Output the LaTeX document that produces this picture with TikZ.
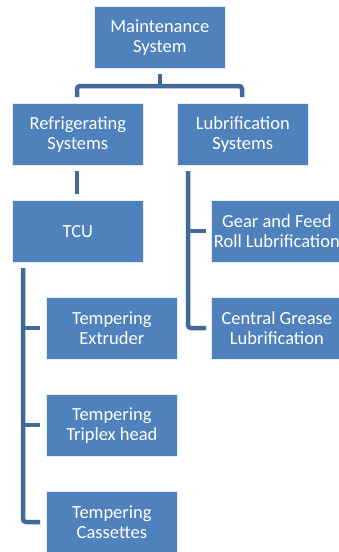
\documentclass[tikz,border=0pt]{standalone}
\usepackage{fontspec}
\setmainfont{Carlito}
\definecolor{boxblue}{HTML}{4F81BD}
\definecolor{linkblue}{HTML}{41699C}
\begin{document}
\begin{tikzpicture}[x=1pt,y=-1pt,
  unit/.style={fill=boxblue, draw=white!85!boxblue, line width=0.7pt,
    minimum width=131pt, minimum height=62pt, inner sep=0pt,
    text=white, align=center, font=\fontsize{18.5}{20}\selectfont},
  link/.style={draw=linkblue, line width=4.5pt, rounded corners=3pt}]
\useasboundingbox (0,0) rectangle (339,552);
\node[unit, anchor=north west] (ms)  at (94,6)    {Maintenance\\System};
\node[unit, anchor=north west] (rs)  at (12,103)  {Refrigerating\\Systems};
\node[unit, anchor=north west] (ls)  at (177,103) {Lubrification\\Systems};
\node[unit, anchor=north west] (tcu) at (12,200)  {TCU};
\node[unit, anchor=north west] (gf)  at (211,200) {Gear and Feed\\Roll Lubrification};
\node[unit, anchor=north west] (cg)  at (211,297) {Central Grease\\Lubrification};
\node[unit, anchor=north west] (te)  at (46,297)  {Tempering\\Extruder};
\node[unit, anchor=north west] (tt)  at (46,394)  {Tempering\\Triplex head};
\node[unit, anchor=north west] (tc)  at (46,491)  {Tempering\\Cassettes};
% junction points of the tree connectors
\coordinate (msj)  at (160,74);
\coordinate (mid)  at (160,86);
\coordinate (rsj)  at (77,97);
\coordinate (lsj)  at (242,97);
\coordinate (rsb)  at (77,171);
\coordinate (tcut) at (77,194);
\coordinate (lsb)  at (188,171);
\coordinate (lsg)  at (188,231);
\coordinate (gfj)  at (206,231);
\coordinate (cgj)  at (206,328);
\coordinate (tcub) at (23,268);
\coordinate (tej)  at (23,328);
\coordinate (ttj)  at (23,425);
\coordinate (tej2) at (40,328);
\coordinate (ttj2) at (40,425);
\coordinate (tcj)  at (40,522);
% top level
\draw[link] (msj) -- (mid);
\draw[link] (rsj) |- (mid) -| (lsj);
% refrigerating to TCU
\draw[link] (rsb) -- (tcut);
% lubrification branches
\draw[link] (lsb) |- (cgj);
\draw[link] (lsg) -- (gfj);
% TCU branches
\draw[link] (tcub) |- (tcj);
\draw[link] (tej) -- (tej2);
\draw[link] (ttj) -- (ttj2);
\end{tikzpicture}
\end{document}
